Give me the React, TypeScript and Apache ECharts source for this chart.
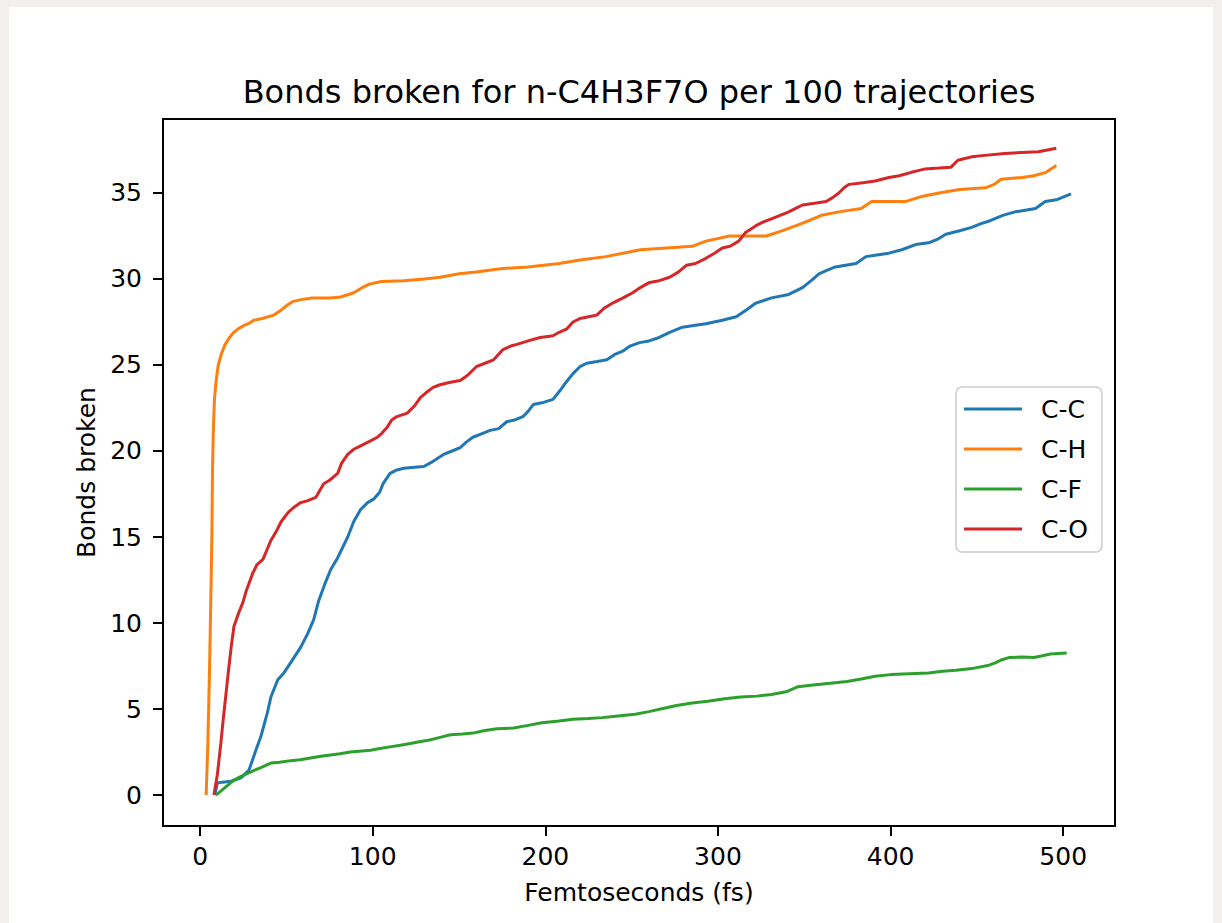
import React, { useEffect, useRef } from "react";
import * as echarts from "echarts";

const seriesNames = ["C-C", "C-H", "C-F", "C-O"];
const seriesColors = ["#1f77b4", "#ff7f0e", "#2ca02c", "#d62728"];

const xTicks = [0, 100, 200, 300, 400, 500];
const yTicks = [0, 5, 10, 15, 20, 25, 30, 35];

const ccData: number[][] = [
  [8.5, 0], [10, 0.7], [13, 0.75], [18, 0.8], [23.7, 1.0], [28.3, 1.45], [32.3, 2.6], [35.2, 3.4], [39, 4.8], [41, 5.7],
  [45, 6.7], [48.5, 7.1], [52.5, 7.7], [58.3, 8.6], [62.4, 9.4], [65.8, 10.2], [68.7, 11.3], [72, 12.2], [75.6, 13.1],
  [79.7, 13.8], [85.5, 15], [89, 15.9], [93, 16.6], [97, 17], [100.5, 17.2], [104, 17.6], [106, 18.1], [110, 18.7],
  [114, 18.9], [118, 19], [124, 19.05], [129.6, 19.1], [135, 19.4], [141, 19.8], [146, 20], [150.7, 20.2], [154, 20.5],
  [158, 20.8], [163, 21], [168, 21.2], [173, 21.3], [177.6, 21.7], [182, 21.8], [187, 22], [190, 22.3], [193, 22.7],
  [198, 22.8], [204.4, 23], [208.4, 23.5], [212, 24], [216, 24.5], [220, 24.9], [224, 25.1], [230, 25.2], [235.6, 25.3],
  [240, 25.6], [244.8, 25.8], [249, 26.1], [254.6, 26.3], [260, 26.4], [266, 26.6], [272, 26.9], [279.4, 27.2],
  [286, 27.3], [293, 27.4], [302.5, 27.6], [310.6, 27.8], [316.4, 28.2], [322, 28.6], [331, 28.9], [341, 29.1],
  [349, 29.5], [354, 29.9], [358.5, 30.3], [363, 30.5], [368, 30.7], [374, 30.8], [380, 30.9], [385.7, 31.3],
  [392, 31.4], [399, 31.5], [406.5, 31.7], [414.5, 32], [422, 32.1], [427, 32.3], [432, 32.6], [440, 32.8], [447, 33],
  [452, 33.2], [458, 33.4], [465, 33.7], [472, 33.9], [478, 34], [484, 34.1], [489.6, 34.5], [496, 34.6], [504.5, 34.95],
];

const chData: number[][] = [
  [3.5, 0], [4.5, 3], [5.5, 7.5], [6.3, 12], [6.8, 15], [7.2, 19], [7.6, 21], [8.3, 23], [9.2, 24], [10.5, 25],
  [12.5, 25.7], [14.5, 26.2], [17, 26.6], [19.6, 26.9], [22, 27.1], [25.4, 27.3], [28, 27.4], [31, 27.6], [36, 27.7],
  [42.7, 27.9], [47, 28.2], [50.8, 28.5], [54, 28.7], [58.4, 28.8], [65, 28.9], [75, 28.9], [81.4, 28.95], [86, 29.1],
  [89, 29.2], [94, 29.5], [98, 29.7], [105, 29.85], [118, 29.9], [130, 30.0], [139, 30.1], [150, 30.3], [160, 30.4],
  [174, 30.6], [190, 30.7], [208, 30.9], [220, 31.1], [235, 31.3], [255, 31.7], [270, 31.8], [285, 31.9], [293, 32.2],
  [306.6, 32.5], [315, 32.5], [328, 32.5], [337, 32.8], [348, 33.2], [360, 33.7], [370, 33.9], [383, 34.1], [389, 34.5],
  [400, 34.5], [408.6, 34.5], [418, 34.8], [428, 35.0], [440, 35.2], [455, 35.3], [460, 35.5], [464, 35.8], [476, 35.9],
  [483, 36.0], [490, 36.2], [496, 36.6],
];

const cfData: number[][] = [
  [9.2, 0], [14, 0.4], [19.6, 0.87], [24, 1.1], [29.4, 1.35], [35.2, 1.6], [41, 1.86], [46, 1.9], [52.5, 2.0],
  [58, 2.05], [64, 2.15], [70, 2.25], [75.6, 2.33], [81, 2.4], [87, 2.5], [92, 2.55], [98.7, 2.6], [104, 2.7],
  [110, 2.8], [116, 2.9], [121.8, 3.0], [127, 3.1], [133, 3.2], [139, 3.35], [145, 3.5], [152, 3.55], [158, 3.6],
  [165, 3.75], [172, 3.85], [181.6, 3.9], [190, 4.05], [198, 4.2], [208, 4.3], [216, 4.4], [225, 4.45], [233, 4.5],
  [242, 4.6], [252, 4.7], [260, 4.85], [268.8, 5.05], [276, 5.2], [285, 5.35], [294, 5.45], [304, 5.6], [313, 5.7],
  [322.7, 5.75], [331, 5.85], [339.5, 6.0], [346.4, 6.3], [355, 6.4], [365, 6.5], [374.7, 6.6], [383, 6.75],
  [391, 6.9], [400, 7.0], [411, 7.05], [422, 7.1], [430, 7.2], [438, 7.25], [447, 7.35], [457, 7.55], [461, 7.7],
  [464, 7.85], [469, 8.0], [476, 8.02], [483, 8.0], [488, 8.1], [492.5, 8.2], [502, 8.25],
];

const coData: number[][] = [
  [8, 0], [10, 1.2], [12, 3], [13.5, 4.5], [15, 5.9], [16.5, 7.3], [18, 8.6], [19.6, 9.8], [22, 10.5], [24.8, 11.2],
  [26.5, 11.8], [28.3, 12.3], [30.5, 12.9], [33, 13.4], [36.4, 13.7], [38.5, 14.2], [41, 14.8], [44, 15.3], [47, 15.9],
  [50.8, 16.4], [54, 16.7], [58.3, 17], [62, 17.1], [67, 17.3], [71.6, 18.1], [75, 18.3], [79.7, 18.7], [82, 19.3],
  [85.5, 19.8], [89, 20.1], [93, 20.3], [97, 20.5], [102.7, 20.8], [105, 21.0], [108.5, 21.4], [111, 21.8], [114, 22],
  [120, 22.2], [124, 22.6], [127.6, 23.1], [131, 23.4], [135, 23.7], [139, 23.85], [145, 24.0], [150.7, 24.1],
  [155, 24.4], [160, 24.9], [165, 25.1], [170, 25.3], [175.5, 25.9], [180, 26.1], [183.6, 26.2], [190, 26.4],
  [197, 26.6], [204.4, 26.7], [208, 26.9], [212.5, 27.1], [216, 27.5], [220, 27.7], [225, 27.8], [229.8, 27.9],
  [234, 28.3], [239, 28.6], [245, 28.9], [250.6, 29.2], [255, 29.5], [260.4, 29.8], [266, 29.9], [272, 30.1],
  [277, 30.4], [281.8, 30.8], [287, 30.9], [293, 31.2], [298, 31.5], [302.5, 31.8], [307, 31.9], [312, 32.2],
  [316, 32.7], [322, 33.1], [326, 33.3], [331, 33.5], [336, 33.7], [341, 33.9], [345, 34.1], [349, 34.3], [356, 34.4],
  [362.6, 34.5], [366, 34.7], [370, 35.0], [373, 35.3], [376, 35.5], [384, 35.6], [391, 35.7], [395, 35.8],
  [399, 35.9], [405, 36.0], [412, 36.2], [416, 36.3], [420, 36.4], [428, 36.45], [435, 36.5], [439, 36.9], [443, 37.0],
  [447, 37.1], [456, 37.2], [466, 37.3], [476, 37.35], [485.6, 37.4], [496, 37.6],
];

const allData = [ccData, chData, cfData, coData];

const FONT = "DejaVu Sans";

export default function App() {
  const ref = useRef<HTMLDivElement>(null);

  useEffect(() => {
    if (!ref.current) return;
    const chart = echarts.init(ref.current, null, { renderer: "svg" });
    const option: any = {
      animation: false,
      backgroundColor: "#ffffff",
      textStyle: { fontFamily: FONT },
      graphic: [
        {
          type: "text",
          x: 630,
          y: 85,
          style: {
            text: "Bonds broken for n-C4H3F7O per 100 trajectories",
            fontFamily: FONT,
            fontSize: 32,
            fill: "#000",
            align: "center",
            verticalAlign: "middle",
          },
        },
      ],
      grid: {
        left: 154,
        top: 112,
        width: 952,
        height: 707,
        show: true,
        borderColor: "#000",
        borderWidth: 2,
        backgroundColor: "#fff",
      },
      legend: {
        orient: "vertical",
        left: 947,
        top: 380,
        data: seriesNames,
        icon: "rect",
        itemWidth: 58,
        itemHeight: 3,
        itemGap: 14,
        padding: [9, 14, 10, 8],
        borderColor: "#cccccc",
        borderWidth: 1.5,
        borderRadius: 6,
        backgroundColor: "rgba(255,255,255,0.8)",
        textStyle: {
          fontFamily: FONT,
          fontSize: 25,
          color: "#000",
          lineHeight: 26,
          padding: [0, 0, 0, 14],
        },
      },
      xAxis: {
        type: "value",
        min: -21.5,
        max: 530,
        name: "Femtoseconds (fs)",
        nameLocation: "middle",
        nameGap: 54,
        nameTextStyle: { fontFamily: FONT, fontSize: 25, color: "#000" },
        axisLine: { show: false, onZero: false },
        splitLine: { show: false },
        axisTick: {
          show: true,
          length: 10,
          inside: false,
          customValues: xTicks,
          lineStyle: { color: "#000", width: 2 },
        },
        axisLabel: {
          customValues: xTicks,
          fontFamily: FONT,
          fontSize: 25,
          color: "#000",
          margin: 18,
        },
      },
      yAxis: {
        type: "value",
        min: -1.8,
        max: 39.3,
        name: "Bonds broken",
        nameLocation: "middle",
        nameGap: 62,
        nameTextStyle: { fontFamily: FONT, fontSize: 25, color: "#000" },
        axisLine: { show: false, onZero: false },
        splitLine: { show: false },
        axisTick: {
          show: true,
          length: 10,
          inside: false,
          customValues: yTicks,
          lineStyle: { color: "#000", width: 2 },
        },
        axisLabel: {
          customValues: yTicks,
          fontFamily: FONT,
          fontSize: 25,
          color: "#000",
          margin: 21,
        },
      },
      series: seriesNames.map((name, i) => ({
        name,
        type: "line",
        data: allData[i],
        showSymbol: false,
        symbol: "none",
        color: seriesColors[i],
        lineStyle: { color: seriesColors[i], width: 3 },
        z: 2 + i,
      })),
    };
    chart.setOption(option);
    return () => chart.dispose();
  }, []);

  return (
    <div style={{ position: "fixed", left: 0, top: 0, width: 1222, height: 923, background: "#f2efee" }}>
      <div ref={ref} style={{ position: "absolute", left: 9, top: 7, width: 1204, height: 916 }} />
    </div>
  );
}
